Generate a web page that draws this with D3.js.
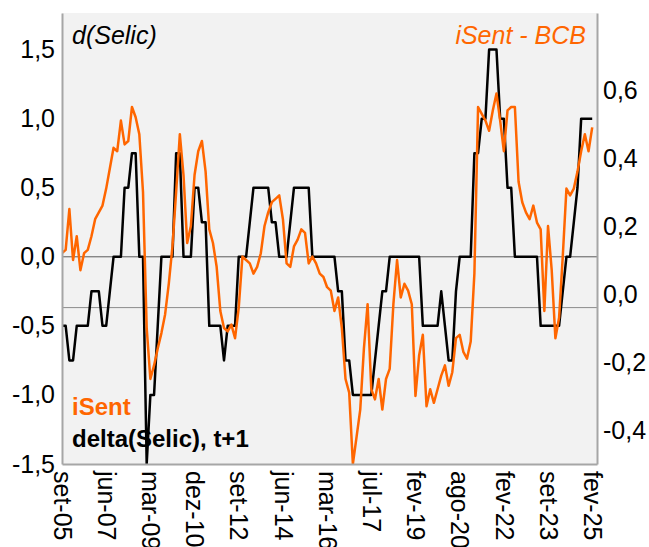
<!DOCTYPE html>
<html>
<head>
<meta charset="utf-8">
<script src="https://cdn.jsdelivr.net/npm/d3@7"></script>
<style>
body{margin:0;background:#fff;}
text{font-family:"Liberation Sans",Arial,sans-serif;}
</style>
</head>
<body>
<svg id="chart" width="649" height="547"></svg>
<script>
// category labels, one every 12 points
var xLabels = ["set-05","jun-07","mar-09","dez-10","set-12","jun-14","mar-16","jul-17","fev-19","ago-20","fev-22","set-23","fev-25"];
var labelEvery = 12;

// delta(Selic), t+1  (left axis)
var selicDelta = [
	-0.5,-0.5,-0.75,-0.75,-0.5,-0.5,-0.5,-0.5,-0.25,-0.25,
	-0.25,-0.5,-0.5,-0.25,0,0,0,0.5,0.5,0.75,
	0.75,0,0,-1.5,-1,-1,-0.5,0,0,0,
	0,0.75,0.75,0,0,0,0.5,0.5,0.25,0.25,
	-0.5,-0.5,-0.5,-0.5,-0.75,-0.5,-0.5,-0.5,0,0,
	0,0.25,0.5,0.5,0.5,0.5,0.5,0.25,0.25,0,
	0,0,0.25,0.5,0.5,0.5,0.5,0.5,0,0,
	0,0,0,0,0,-0.25,-0.25,-0.75,-0.75,-1,
	-1,-1,-1,-1,-1,-0.75,-0.5,-0.25,-0.25,0,
	0,0,0,0,0,0,0,0,-0.5,-0.5,
	-0.5,-0.5,-0.5,-0.25,-0.5,-0.75,-0.75,-0.25,0,0,
	0,0,0.75,0.75,1,1,1.5,1.5,1.5,1,
	1,0.5,0.5,0,0,0,0,0,0,0,
	-0.5,-0.5,-0.5,-0.5,-0.5,-0.5,-0.25,0,0,0.25,
	0.5,1,1,1,1
];

// iSent - BCB  (right axis)
var iSent = [
	0.12,0.13,0.25,0.10,0.17,0.07,0.12,0.13,0.17,0.22,
	0.24,0.26,0.31,0.37,0.43,0.42,0.51,0.44,0.45,0.55,
	0.52,0.47,0.30,-0.10,-0.25,-0.21,-0.16,-0.115,-0.06,0.03,
	0.14,0.30,0.47,0.35,0.15,0.20,0.35,0.42,0.45,0.36,
	0.19,0.15,0.08,-0.05,-0.10,-0.11,-0.09,-0.13,-0.04,0.11,
	0.10,0.09,0.06,0.08,0.12,0.20,0.24,0.27,0.28,0.29,
	0.22,0.09,0.08,0.14,0.16,0.19,0.18,0.09,0.11,0.09,
	0.06,0.05,0.02,0.01,-0.05,-0.01,-0.10,-0.25,-0.29,-0.5,
	-0.42,-0.34,-0.16,-0.03,-0.28,-0.31,-0.25,-0.34,-0.25,-0.22,
	-0.03,0.10,-0.01,0.03,0.01,-0.03,-0.30,-0.18,-0.12,-0.33,
	-0.28,-0.32,-0.28,-0.24,-0.21,-0.27,-0.23,-0.13,-0.12,-0.17,
	-0.19,-0.14,0.06,0.55,0.53,0.51,0.48,0.54,0.59,0.51,
	0.42,0.54,0.55,0.55,0.33,0.27,0.24,0.22,0.26,0.21,
	0.19,-0.05,0.20,0.07,-0.13,-0.07,0.11,0.31,0.29,0.31,
	0.36,0.42,0.47,0.42,0.49
];

var leftTicks = [-1.5,-1,-0.5,0,0.5,1,1.5];
var rightTicks = [-0.4,-0.2,0,0.2,0.4,0.6];
var iSentRefLine = -0.04;

var orange = "#ff6600";
var plot = {left:62, right:597, top:13, bottom:464};

function fmt(d){
	return d3.format(".1f")(d).replace(".", ",").replace("−", "-");
}

function draw_chart(){
	var svg = d3.select("#chart");

	var x = d3.scaleLinear().domain([0, 145.3]).range([plot.left, plot.right]);
	var yL = d3.scaleLinear().domain([-1.5, 1.765]).range([plot.bottom, plot.top]);
	var yR = d3.scaleLinear().domain([-0.5, 0.8265]).range([plot.bottom, plot.top]);

	svg.append("rect").attr("x", plot.left).attr("y", plot.top)
		.attr("width", plot.right - plot.left).attr("height", plot.bottom - plot.top)
		.attr("fill", "#f2f2f2");

	svg.append("clipPath").attr("id", "plotclip").append("rect")
		.attr("x", plot.left).attr("y", plot.top)
		.attr("width", plot.right - plot.left).attr("height", plot.bottom - plot.top);

	// zero line of left axis and reference line of right axis
	svg.append("line").attr("x1", plot.left).attr("x2", plot.right)
		.attr("y1", yL(0)).attr("y2", yL(0))
		.attr("stroke", "#5a5a5a").attr("stroke-width", 1);
	svg.append("line").attr("x1", plot.left).attr("x2", plot.right)
		.attr("y1", yR(iSentRefLine)).attr("y2", yR(iSentRefLine))
		.attr("stroke", "#8c8c8c").attr("stroke-width", 1);

	var lines = svg.append("g").attr("clip-path", "url(#plotclip)");

	lines.append("path").datum(selicDelta)
		.attr("fill", "none").attr("stroke", "#000").attr("stroke-width", 2.5)
		.attr("stroke-linejoin", "round")
		.attr("d", d3.line().x(function(d,i){ return x(i); }).y(function(d){ return yL(d); }));

	lines.append("path").datum(iSent)
		.attr("fill", "none").attr("stroke", orange).attr("stroke-width", 2.5)
		.attr("stroke-linejoin", "round")
		.attr("d", d3.line().x(function(d,i){ return x(i); }).y(function(d){ return yR(d); }));

	var leftAxis = svg.append("g").attr("transform", "translate(" + plot.left + ",0)")
		.call(d3.axisLeft(yL).tickValues(leftTicks).tickSize(0).tickPadding(7).tickFormat(fmt));

	var rightAxis = svg.append("g").attr("transform", "translate(" + plot.right + ",0)")
		.call(d3.axisRight(yR).tickValues(rightTicks).tickSize(0).tickPadding(6).tickFormat(fmt));

	var xTicks = xLabels.map(function(d,i){ return i * labelEvery; });
	var bottomAxis = svg.append("g").attr("transform", "translate(0," + plot.bottom + ")")
		.call(d3.axisBottom(x).tickValues(xTicks).tickSize(0)
			.tickFormat(function(d,i){ return xLabels[i]; }));
	bottomAxis.selectAll("text")
		.attr("transform", "rotate(90)")
		.attr("x", 7).attr("y", 0).attr("dy", "0.35em")
		.style("text-anchor", "start");

	[leftAxis, rightAxis, bottomAxis].forEach(function(a){
		a.select(".domain").attr("stroke", "#a6a6a6").attr("stroke-width", 2);
		a.selectAll("text").attr("font-size", 25).attr("fill", "#000")
			.attr("font-family", "'Liberation Sans',Arial,sans-serif");
	});

	svg.append("text").attr("x", 72).attr("y", 44)
		.attr("font-size", 25).attr("font-style", "italic").attr("fill", "#000")
		.text("d(Selic)");
	svg.append("text").attr("x", 586).attr("y", 44)
		.attr("font-size", 25).attr("font-style", "italic").attr("fill", orange)
		.attr("text-anchor", "end")
		.text("iSent - BCB");

	svg.append("text").attr("x", 72).attr("y", 415)
		.attr("font-size", 24).attr("font-weight", "bold").attr("fill", orange)
		.text("iSent");
	svg.append("text").attr("x", 72).attr("y", 447)
		.attr("font-size", 24).attr("font-weight", "bold").attr("fill", "#000")
		.text("delta(Selic), t+1");
}

draw_chart();
</script>
</body>
</html>
